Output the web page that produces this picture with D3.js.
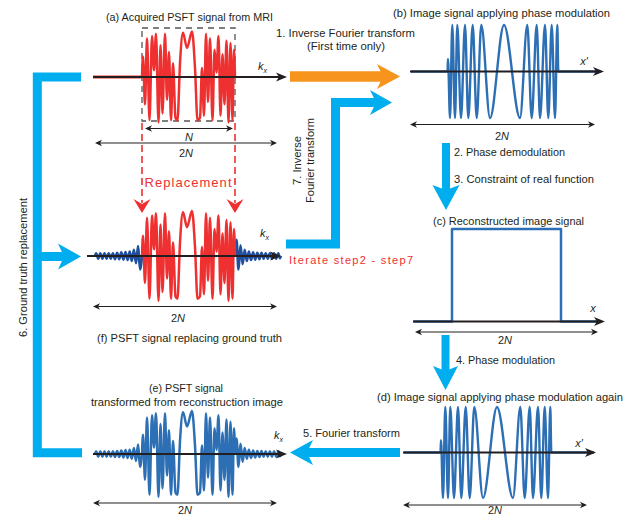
<!DOCTYPE html>
<html><head><meta charset="utf-8">
<script src="https://cdn.jsdelivr.net/npm/d3@7"></script>
<style>
body{margin:0;background:#fff}
svg{display:block}
text{font-family:"Liberation Sans",Arial,sans-serif;fill:#231f20}
</style>
</head><body>
<svg id="c" width="635" height="516"></svg>
<script>
// ---------- data ----------
// chirp (phase-modulated image signal), offsets from centre in px-units, values -1..1
const chirpPos = [-93, -56.5, -56, -54, -51.7, -49, -46.7, -43, -39, -35.7, -31.3, -27.3, -22.7, -14, 0, 16, 23.3, 27.7, 32.7, 36, 41, 44.3, 47.7, 51, 53.3, 54.3, 97];
const chirpVal = [0, 0, 0.27, -1, 1, -1, 1, -1, 1, -1, 1, -1, 1, -1, 1, -1, 1, -1, 1, -1, 1, -1, 1, -1, 1, 0, 0];
// PSFT spectrum (measured region, width N)
const specPos = [0, 1, 3, 5, 7.5, 10, 12, 14, 16.5, 18.5, 20.5, 23, 25, 27, 29, 31, 33.5, 35.5, 38, 41, 45, 50, 53, 55.5, 58, 60, 62, 64, 66, 68, 70.5, 72.5, 74.5, 76.5, 78.5, 80.5, 82.5, 84.5, 86.5, 88.5, 90.5, 92, 93];
const specVal = [0, 0.45, -0.6, 0.85, -0.95, 0.9, 0.15, 0.95, -1.0, 0.7, -0.8, 0.95, -0.5, 0.55, -0.95, 0.3, -0.9, -0.95, 0.3, 0.97, 0.64, 1.0, 0.2, -0.95, -0.9, 0.2, -0.85, 0.95, -0.55, 0.85, -0.95, 0.6, 0.1, 0.9, -0.85, 0.5, -0.6, 0.8, -1.0, 0.75, -0.95, 0.6, 0];
// outer (estimated) parts of the spectrum
const tailLPos = [-47, -45.9, -43.8, -41.7, -39.6, -37.5, -35.4, -33.3, -31.2, -29.1, -27, -24.9, -22.8, -20.7, -18.6, -16.5, -14.4, -12.3, -10.2, -8.1, -6, -3.9, -2, 0];
const tailLVal = [0, 0.06, -0.06, 0.06, -0.06, 0.06, -0.06, 0.06, -0.06, 0.06, -0.07, 0.07, -0.07, 0.08, -0.08, 0.09, -0.09, 0.1, -0.11, 0.14, -0.16, 0.22, -0.3, 0];
const tailRPos = [93, 94.5, 96.5, 98.5, 100.6, 102.7, 104.8, 106.9, 109, 111.1, 113.2, 115.3, 117.4, 119.5, 121.6, 123.7, 125.8, 127.9, 130, 132.1, 134.2, 136.3, 138, 139];
const tailRVal = [0, 0.36, -0.3, 0.24, -0.18, 0.14, -0.11, 0.1, -0.09, 0.08, -0.08, 0.07, -0.07, 0.07, -0.06, 0.06, -0.06, 0.06, -0.06, 0.06, -0.06, 0.06, -0.05, 0];
// reconstructed (real) image signal
const reconPos = [-93, -54.5, -54.5, 54.5, 54.5, 93];
const reconVal = [0, 0, 1, 1, 0, 0];

const panelTitles = ["(a) Acquired PSFT signal from MRI", "(b) Image signal applying phase modulation",
  "(c) Reconstructed image signal", "(d) Image signal applying phase modulation again",
  "(e) PSFT signal", "transformed from reconstruction image", "(f) PSFT signal replacing ground truth"];
const stepLabels = ["1. Inverse Fourier transform", "(First time only)", "2. Phase demodulation",
  "3. Constraint of real function", "4. Phase modulation", "5. Fourier transform",
  "6. Ground truth replacement", "7. Inverse", "Fourier transform"];
const redLabels = ["Replacement", "Iterate step2 - step7"];

// ---------- drawing ----------
const RED = "#ee3030", BLUE = "#2c6fb4", DBLUE = "#1f4f9e", CYAN = "#00aeef", ORANGE = "#f7941d", INK = "#231f20";
const svg = d3.select("#c");
const zip = (p, v) => p.map((d, i) => [d, v[i]]);

function signal(data, xs, ys, color, w, curve) {
  svg.append("path").datum(data)
    .attr("d", d3.line().x(d => xs(d[0])).y(d => ys(d[1])).curve(curve || d3.curveMonotoneX))
    .attr("fill", "none").attr("stroke", color).attr("stroke-width", w)
    .attr("stroke-linejoin", "round");
}
function axisArrow(x1, x2, y) {
  svg.append("line").attr("x1", x1).attr("x2", x2 - 6).attr("y1", y).attr("y2", y)
    .attr("stroke", INK).attr("stroke-width", 2);
  svg.append("path").attr("d", `M${x2},${y}L${x2 - 11},${y - 4.5}L${x2 - 8},${y}L${x2 - 11},${y + 4.5}Z`).attr("fill", INK);
}
function dimArrow(x1, x2, y) {
  svg.append("line").attr("x1", x1 + 3).attr("x2", x2 - 3).attr("y1", y).attr("y2", y)
    .attr("stroke", INK).attr("stroke-width", 1);
  svg.append("path").attr("d", `M${x1},${y}L${x1 + 7},${y - 3.2}L${x1 + 5},${y}L${x1 + 7},${y + 3.2}Z`).attr("fill", INK);
  svg.append("path").attr("d", `M${x2},${y}L${x2 - 7},${y - 3.2}L${x2 - 5},${y}L${x2 - 7},${y + 3.2}Z`).attr("fill", INK);
}
function thickArrow(pts, w, L, W, notch, color) {
  const n = pts.length, T = pts[n - 1], P = pts[n - 2];
  const dx = T[0] - P[0], dy = T[1] - P[1], len = Math.hypot(dx, dy);
  const ux = dx / len, uy = dy / len, nx = -uy, ny = ux;
  const back = [T[0] - ux * L, T[1] - uy * L];
  const np = [T[0] - ux * (L - notch), T[1] - uy * (L - notch)];
  const shaft = pts.slice(0, n - 1).concat([[np[0] + ux, np[1] + uy]]);
  svg.append("path").attr("d", d3.line()(shaft)).attr("fill", "none").attr("stroke", color)
    .attr("stroke-width", w).attr("stroke-linejoin", "miter");
  if (L > 0) svg.append("path").attr("d", d3.line()([T, [back[0] + nx * W, back[1] + ny * W], np, [back[0] - nx * W, back[1] - ny * W]]) + "Z")
    .attr("fill", color);
}
function label(txt, x, y, opt) {
  opt = opt || {};
  const t = svg.append("text").attr("x", x).attr("y", y).text(txt)
    .attr("font-size", opt.size || 11).attr("text-anchor", opt.anchor || "middle");
  if (opt.len) t.attr("textLength", opt.len).attr("lengthAdjust", opt.adj || "spacingAndGlyphs");
  if (opt.fill) t.style("fill", opt.fill);
  if (opt.rot) t.attr("transform", `rotate(-90 ${x} ${y})`);
  return t;
}
function kx(x, y) {
  const t = svg.append("text").attr("x", x).attr("y", y).attr("font-size", 11).attr("font-style", "italic");
  t.append("tspan").text("k");
  t.append("tspan").text("x").attr("font-size", 7).attr("dy", 3);
}
function italic(txt, x, y, anchor) {
  svg.append("text").attr("x", x).attr("y", y).attr("font-size", 11).attr("font-style", "italic")
    .attr("text-anchor", anchor || "middle").text(txt);
}
function twoN(x, y) {
  const t = svg.append("text").attr("x", x).attr("y", y).attr("font-size", 11).attr("text-anchor", "middle");
  t.append("tspan").text("2");
  t.append("tspan").text("N").attr("font-style", "italic");
}

// ---- cyan process arrows ----
thickArrow([[81, 77], [37.3, 77], [37.3, 452.7], [81, 452.7]], 9, 0, 0, 0, CYAN);
thickArrow([[37.3, 256.5], [81, 256.5]], 9, 23, 13, 6, CYAN);
thickArrow([[290, 76.5], [400, 76.5]], 10.5, 23, 12.5, 6, ORANGE);
thickArrow([[286, 244], [335.5, 244], [335.5, 102.5], [392, 102.5]], 9, 22, 12.5, 6, CYAN);
thickArrow([[446, 143], [446, 210]], 8, 25, 13.5, 5, CYAN);
thickArrow([[445.5, 335], [445.5, 390]], 8, 24, 12.5, 5, CYAN);
thickArrow([[400, 452.5], [290, 452.5]], 9, 23, 12.5, 6, CYAN);

// ---- (a) acquired PSFT signal ----
const xa = d3.scaleLinear().domain([0, 93]).range([142, 235]);
const ya = d3.scaleLinear().domain([-1, 1]).range([122.5, 31.5]);
svg.append("rect").attr("x", xa(0)).attr("y", 28).attr("width", xa(93) - xa(0)).attr("height", 93)
  .attr("fill", "none").attr("stroke", "#555").attr("stroke-width", 1.3).attr("stroke-dasharray", "6,5");
svg.append("line").attr("x1", 93).attr("x2", xa(0)).attr("y1", ya(0)).attr("y2", ya(0)).attr("stroke", RED).attr("stroke-width", 3);
signal(zip(specPos, specVal), xa, ya, RED, 2.5);
axisArrow(93, 287, ya(0));
kx(258, 70);
dimArrow(145, 233, 128.5);
italic("N", 189, 140.5);
dimArrow(95, 277, 143);
twoN(186, 157);

// red replacement arrows
[0, 93].forEach(p => {
  const x = xa(p);
  svg.append("line").attr("x1", x).attr("x2", x).attr("y1", 123).attr("y2", 203)
    .attr("stroke", RED).attr("stroke-width", 1.6).attr("stroke-dasharray", "7,4");
  svg.append("path").attr("d", `M${x},213L${x - 8.5},199L${x},204L${x + 8.5},199Z`).attr("fill", RED);
});
label(redLabels[0], 188, 187, {size: 13, len: 87, adj: "spacing", fill: RED});

// ---- (f) PSFT signal replacing ground truth ----
const yf = d3.scaleLinear().domain([-1, 1]).range([301, 211]);
signal(zip(tailLPos, tailLVal), xa, yf, DBLUE, 2.6);
signal(zip(tailRPos, tailRVal), xa, yf, DBLUE, 2.6);
signal(zip(specPos, specVal), xa, yf, RED, 2.5);
axisArrow(87, 281, yf(0));
kx(260, 237);
dimArrow(93, 277, 306.5);
twoN(178, 322);
label(panelTitles[6], 189.5, 342, {len: 185});

// ---- (e) PSFT transformed from reconstruction ----
const ye = d3.scaleLinear().domain([-1, 1]).range([497, 411]);
signal(zip(tailLPos, tailLVal), xa, ye, BLUE, 2.6);
signal(zip(tailRPos, tailRVal), xa, ye, BLUE, 2.6);
signal(zip(specPos, specVal), xa, ye, BLUE, 2.5);
axisArrow(93, 287, ye(0));
kx(274, 439);
dimArrow(93, 277, 503);
twoN(185, 513.5);
label(panelTitles[4], 186, 392, {len: 74});
label(panelTitles[5], 187, 405.5, {len: 192});

// ---- (b) image signal with phase modulation ----
const xb = d3.scaleLinear().domain([-100, 100]).range([404, 604]);
const yb = d3.scaleLinear().domain([-1, 1]).range([118, 25]);
signal(zip(chirpPos, chirpVal), xb, yb, BLUE, 2.4);
axisArrow(410, 604, yb(0));
italic("x\u2032", 584, 65);
dimArrow(410, 595, 124.5);
twoN(502, 140);
label(panelTitles[1], 501.5, 17, {len: 217});

// ---- (c) reconstructed image signal ----
const xc = d3.scaleLinear().domain([-100, 100]).range([406.5, 606.5]);
const yc = d3.scaleLinear().domain([0, 1]).range([321.5, 229]);
signal(zip(reconPos, reconVal), xc, yc, BLUE, 2.5, d3.curveLinear);
axisArrow(413, 605, yc(0));
italic("x", 593, 312);
dimArrow(415, 598, 332);
twoN(505, 344);
label(panelTitles[2], 508.5, 225, {len: 151});

// ---- (d) image signal with phase modulation again ----
const xd = d3.scaleLinear().domain([-100, 100]).range([397, 597]);
const yd = d3.scaleLinear().domain([-1, 1]).range([498, 407]);
signal(zip(chirpPos, chirpVal), xd, yd, BLUE, 2.4);
axisArrow(403, 596, yd(0));
italic("x\u2032", 579, 447);
dimArrow(403, 587, 505);
twoN(495, 513.5);
label(panelTitles[3], 500, 401, {len: 246});

// ---- titles and step labels ----
label(panelTitles[0], 189.5, 21, {len: 167});
label(stepLabels[0], 345.5, 37, {len: 139});
label(stepLabels[1], 346, 50, {len: 78});
label(stepLabels[2], 454, 156, {anchor: "start", len: 111});
label(stepLabels[3], 454, 183, {anchor: "start", len: 140});
label(stepLabels[4], 456, 364, {anchor: "start", len: 99});
label(stepLabels[5], 351.5, 437, {len: 97});
label(stepLabels[6], 26.5, 267.5, {rot: true, len: 139});
label(stepLabels[7], 301, 160.5, {rot: true, len: 49});
label(stepLabels[8], 314, 160.5, {rot: true, len: 85});
label(redLabels[1], 289, 264, {anchor: "start", size: 11, len: 124, adj: "spacing", fill: RED});
</script>
</body></html>
